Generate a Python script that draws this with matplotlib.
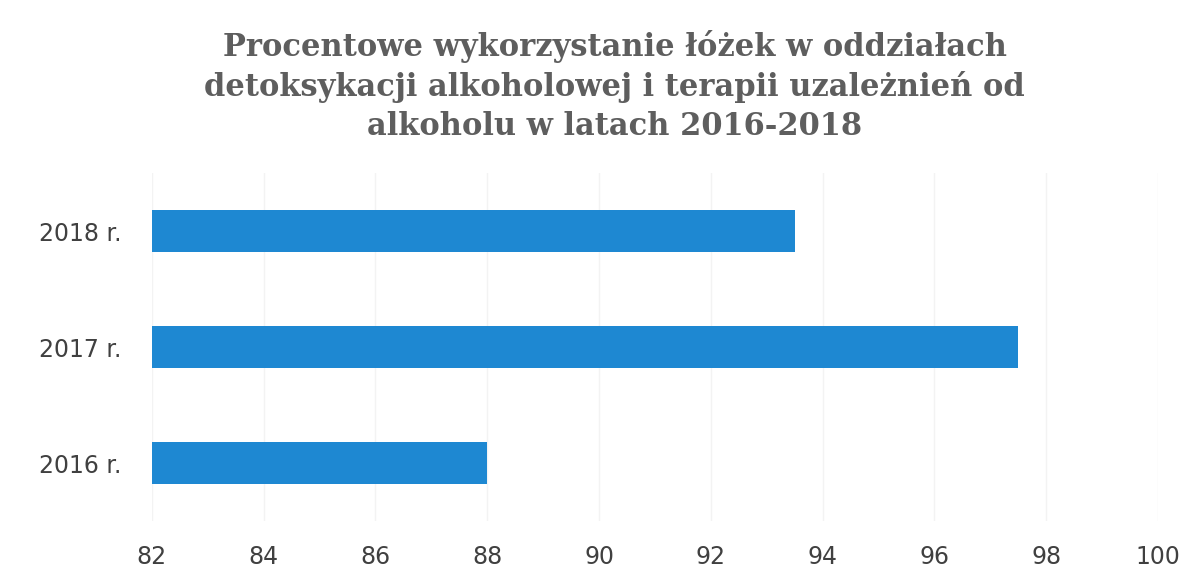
import matplotlib.pyplot as plt

years = ["2016 r.", "2017 r.", "2018 r."]
usage = [88.0, 97.5, 93.5]
xticks = [82, 84, 86, 88, 90, 92, 94, 96, 98, 100]

fig = plt.figure(figsize=(11.87, 5.68), dpi=100)
ax = fig.add_axes([0.128, 0.0827, 0.8475, 0.6127])

ax.barh(range(len(years)), [u - 82 for u in usage], left=82, height=0.36,
        color="#1e88d2", zorder=2)

ax.set_xlim(82, 100)
ax.set_ylim(-0.5, 2.5)
ax.set_xticks(xticks)
ax.set_xticklabels([str(t) for t in xticks])
ax.set_yticks(range(len(years)))
ax.set_yticklabels(years)
ax.tick_params(axis="x", length=0, pad=17, labelsize=17, labelcolor="#404040")
ax.tick_params(axis="y", length=0, pad=22, labelsize=17, labelcolor="#404040")
ax.grid(axis="x", color="#f3f3f3", linewidth=1, zorder=0)
for s in ax.spines.values():
    s.set_visible(False)

fig.text(0.518, 0.947,
         "Procentowe wykorzystanie łóżek w oddziałach\n"
         "detoksykacji alkoholowej i terapii uzależnień od\n"
         "alkoholu w latach 2016-2018",
         ha="center", va="top", fontsize=22, fontweight="bold",
         family="DejaVu Serif", color="#5e5e5e", linespacing=1.33)

fig.savefig("out.png", dpi=100)
